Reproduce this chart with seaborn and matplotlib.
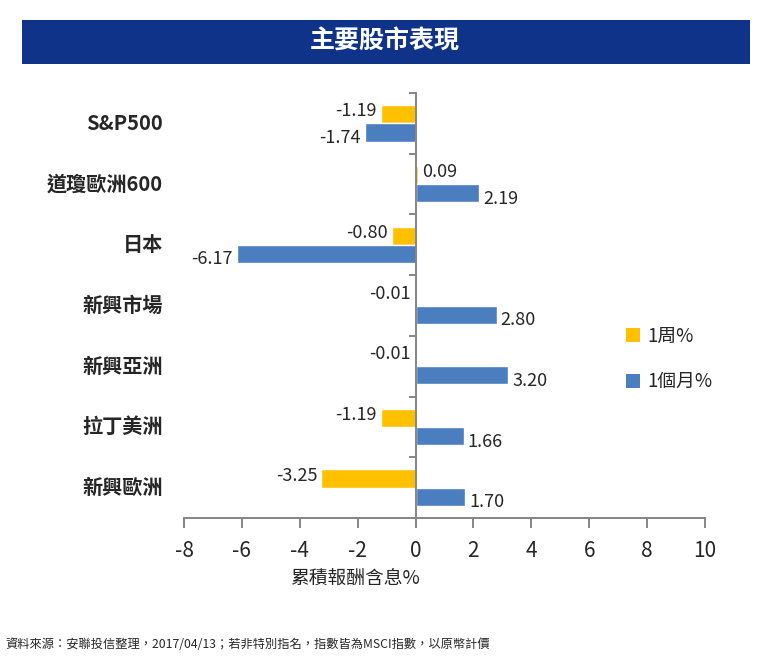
import matplotlib
matplotlib.use("Agg")
import matplotlib.pyplot as plt
from matplotlib.patches import Patch, Rectangle
import matplotlib.transforms as mtransforms
import seaborn as sns
import pandas as pd

categories = ["S&P500", "道瓊歐洲600", "日本", "新興市場", "新興亞洲", "拉丁美洲", "新興歐洲"]
week = [-1.19, 0.09, -0.80, -0.01, -0.01, -1.19, -3.25]
month = [-1.74, 2.19, -6.17, 2.80, 3.20, 1.66, 1.70]
series = ["1周%", "1個月%"]
xticks = [-8, -6, -4, -2, 0, 2, 4, 6, 8, 10]
title = "主要股市表現"
xlabel = "累積報酬含息%"
footer = "資料來源：安聯投信整理，2017/04/13；若非特別指名，指數皆為MSCI指數，以原幣計價"

sns.set_theme(style="white")
plt.rcParams["font.family"] = ["Noto Sans CJK TC", "DejaVu Sans"]

YELLOW = "#FFC000"
BLUE = "#4A7EBF"
GRAY = "#858585"
NAVY = "#10338A"
TXT = "#262626"

df = pd.DataFrame({
    "cat": categories * 2,
    "series": [series[0]] * len(categories) + [series[1]] * len(categories),
    "val": week + month,
})

W, H = 760, 669
fig = plt.figure(figsize=(W / 100, H / 100), dpi=100)
ax = fig.add_axes([184 / W, 1 - 518 / H, (705 - 184) / W, (518 - 93) / H])

sns.barplot(data=df, y="cat", x="val", hue="series", hue_order=series,
            palette=[YELLOW, BLUE], orient="h", width=0.6, gap=0,
            order=categories, ax=ax, legend=False, saturation=1)

ax.set_xlim(-8, 10)
ax.set_ylim(6.5, -0.5)
ax.set_xticks(xticks)
ax.set_xticklabels([str(t) for t in xticks], fontsize=15, color=TXT)
ax.set_yticks([i - 0.5 for i in range(len(categories) + 1)])
ax.set_yticklabels([])
ax.set_xlabel("")
ax.set_ylabel("")
for s in ["top", "right"]:
    ax.spines[s].set_visible(False)
ax.spines["left"].set_position(("data", 0))
ax.spines["left"].set_color(GRAY)
ax.spines["bottom"].set_color(GRAY)
ax.spines["left"].set_linewidth(1.4)
ax.spines["bottom"].set_linewidth(1.4)
ax.tick_params(axis="x", bottom=True, direction="out", length=7, width=1.4, color=GRAY, pad=9)
ax.tick_params(axis="y", left=True, direction="out", length=5, width=1.4, color=GRAY)
ax.grid(False)

# category labels
tr = mtransforms.blended_transform_factory(ax.transAxes, ax.transData)
for i, c in enumerate(categories):
    ax.text(-0.04, i, c, transform=tr, ha="right", va="center",
            fontsize=14.5, fontweight="bold", color=TXT)

# data labels
bw = 0.3
for i in range(len(categories)):
    for j, vals in enumerate([week, month]):
        v = vals[i]
        y = i - bw / 2 if j == 0 else i + bw / 2
        dy = 2 if j == 0 else -4
        if v < 0:
            ax.annotate(f"{v:.2f}", (v, y), xytext=(-3, dy), textcoords="offset points",
                        ha="right", va="center", fontsize=13, color=TXT)
        else:
            ax.annotate(f"{v:.2f}", (v, y), xytext=(3, dy), textcoords="offset points",
                        ha="left", va="center", fontsize=13, color=TXT)

# x label
fig.text(355 / W, 1 - 578 / H, xlabel, ha="center", va="center", fontsize=13.5, color=TXT)

# legend
handles = [Patch(facecolor=YELLOW, edgecolor="none", label=series[0]),
           Patch(facecolor=BLUE, edgecolor="none", label=series[1])]
fig.legend(handles=handles, loc="upper left", bbox_to_anchor=(609 / W, 1 - 309 / H),
           frameon=False, fontsize=13.5, handlelength=0.75, handleheight=0.75,
           handletextpad=0.4, labelspacing=1.3, labelcolor=TXT)

# title banner
fig.patches.append(Rectangle((22 / W, 1 - 64 / H), (750 - 22) / W, (64 - 20) / H,
                             transform=fig.transFigure, facecolor=NAVY, edgecolor="none"))
fig.text(385 / W, 1 - 42 / H, title, ha="center", va="center", fontsize=18,
         fontweight="bold", color="white")

# footer
fig.text(5 / W, 1 - 645 / H, footer, ha="left", va="center", fontsize=8.8, color=TXT)

fig.savefig("out.png", dpi=100, facecolor="white")
